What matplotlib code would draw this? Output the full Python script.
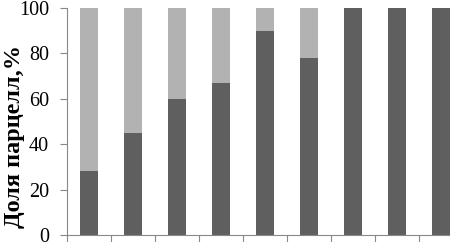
import matplotlib
matplotlib.use("Agg")
import matplotlib.pyplot as plt
import numpy as np

categories = ["1", "2", "3", "4", "5", "6", "7", "8", "9"]
dark_share = [28, 45, 60, 67, 90, 78, 100, 100, 100]
light_share = [100 - v for v in dark_share]
y_ticks = [0, 20, 40, 60, 80, 100]

plt.rcParams['font.family'] = ['Liberation Serif', 'DejaVu Serif']

fig = plt.figure(figsize=(4.5, 2.42), dpi=100)
ax = fig.add_axes([67/450, 7/242, 396/450, 227/242])

x = np.arange(1, len(categories) + 1)
ax.bar(x, dark_share, width=0.39, color="#5f5f5f", edgecolor="none")
ax.bar(x, light_share, bottom=dark_share, width=0.39, color="#b2b2b2", edgecolor="none")

ax.set_xlim(0.5, len(categories) + 0.5)
ax.set_ylim(0, 100)
ax.set_yticks(y_ticks)
ax.set_yticklabels([str(t) for t in y_ticks], fontsize=14.5)
ax.set_xticks(np.arange(0.5, len(categories) + 0.6, 1))
ax.set_xticklabels([])
ax.tick_params(axis='y', direction='out', length=5, width=0.8, color="#888888", pad=8)
ax.tick_params(axis='x', direction='out', length=5, width=0.8, color="#888888")
for s in ['top', 'right']:
    ax.spines[s].set_visible(False)
ax.spines['left'].set_color("#888888")
ax.spines['bottom'].set_color("#888888")

fig.text(15/450, 1 - 137/242, "Доля парцелл,%", fontsize=17.5, fontweight='bold',
         rotation=90, ha='center', va='center')

fig.savefig("out.png", dpi=100)
